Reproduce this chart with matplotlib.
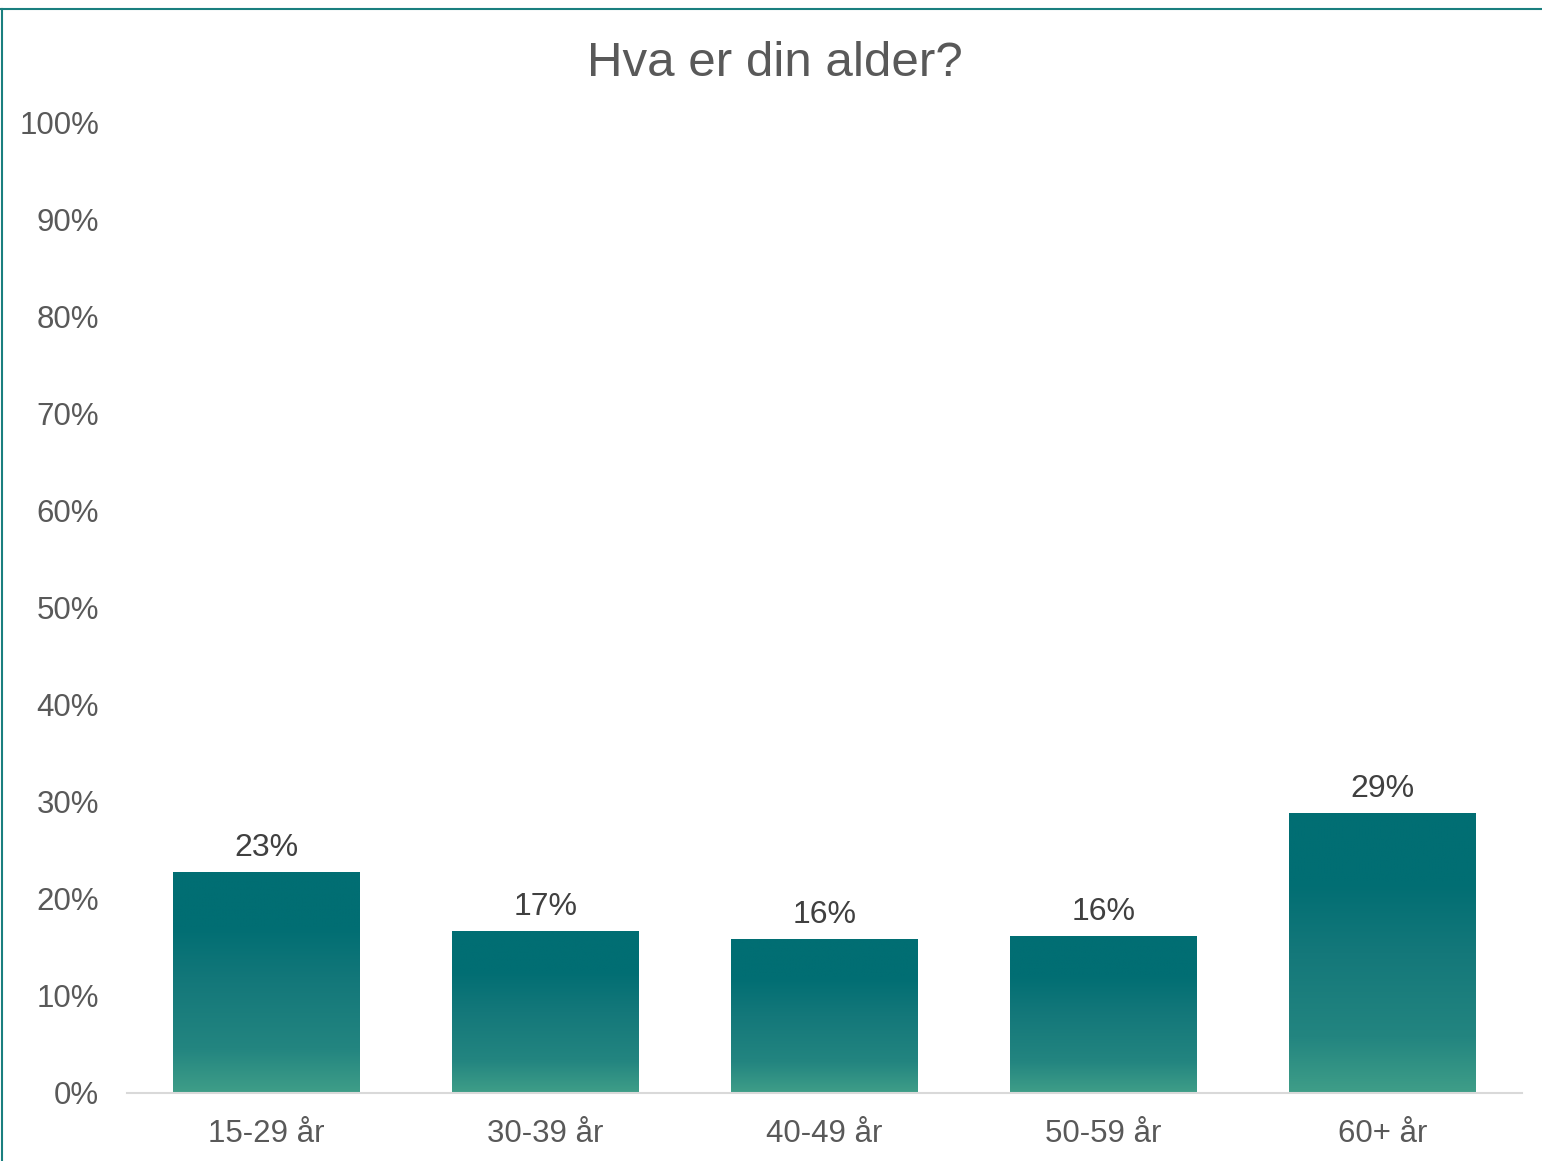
import numpy as np
import matplotlib.pyplot as plt
from matplotlib.colors import LinearSegmentedColormap
from matplotlib.lines import Line2D

categories = ['15-29 år', '30-39 år', '40-49 år', '50-59 år', '60+ år']
values = [0.227, 0.166, 0.158, 0.161, 0.288]
labels = ['23%', '17%', '16%', '16%', '29%']
yticks = np.arange(0, 1.01, 0.1)

plt.rcParams['font.family'] = ['Liberation Sans', 'DejaVu Sans']

W, H = 1542, 1161
fig = plt.figure(figsize=(W / 100, H / 100), dpi=100)
ax = fig.add_axes([127 / W, (H - 1093) / H, (1522 - 127) / W, (1093 - 122) / H])

# gradient: dark on top, lighter green at bottom
cmap = LinearSegmentedColormap.from_list(
    'bar', [(0.0, '#3f9e88'), (0.2, '#238580'), (0.5, '#14787a'), (0.75, '#016e73'), (1.0, '#016e73')])
grad = np.linspace(0, 1, 256).reshape(-1, 1)

width = 0.667
bars = ax.bar(range(len(categories)), values, width=width, color='none', edgecolor='none')
for b, v, lab in zip(bars, values, labels):
    x0 = b.get_x()
    ax.imshow(grad, extent=[x0, x0 + width, 0, v], origin='lower', cmap=cmap,
              aspect='auto', zorder=2, interpolation='bilinear')
    ax.text(x0 + width / 2, v + 0.01, lab, ha='center', va='bottom',
            fontsize=23, color='#404040')

ax.set_xlim(-0.5, len(categories) - 0.5)
ax.set_ylim(0, 1)
ax.set_yticks(yticks)
ax.set_yticklabels([f'{int(round(t * 100))}%' for t in yticks])
ax.set_xticks(range(len(categories)))
ax.set_xticklabels(categories)
ax.tick_params(axis='both', length=0, labelsize=22.5, labelcolor='#595959')
ax.tick_params(axis='y', pad=20)
ax.tick_params(axis='x', pad=19)
for s in ['top', 'right', 'left']:
    ax.spines[s].set_visible(False)
ax.spines['bottom'].set_color('#d9d9d9')
ax.spines['bottom'].set_linewidth(1.5)
ax.spines['bottom'].set_zorder(3)

fig.text(775 / W, 1 - 63 / H, 'Hva er din alder?', ha='center', va='center',
         fontsize=35.5, color='#595959')

# chart frame edges (top and left)
fig.add_artist(Line2D([0, 1], [1 - 9 / H, 1 - 9 / H], transform=fig.transFigure,
                      color='#1a7f7f', lw=1.5))
fig.add_artist(Line2D([1.5 / W, 1.5 / W], [0, 1 - 9 / H], transform=fig.transFigure,
                      color='#1a7f7f', lw=1.5))

fig.savefig('out.png', dpi=100)
